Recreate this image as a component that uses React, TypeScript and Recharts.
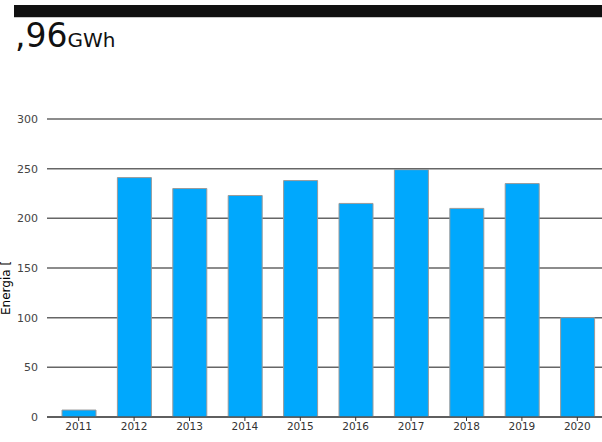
import React from 'react';
import { BarChart, Bar, XAxis, YAxis, CartesianGrid } from 'recharts';

const years = ['2011', '2012', '2013', '2014', '2015', '2016', '2017', '2018', '2019', '2020'];
const energy = [7, 241, 230, 223, 238, 215, 249, 210, 235, 100];
const yTicks = [0, 50, 100, 150, 200, 250, 300];

const data = years.map((y, i) => ({ year: y, value: energy[i] }));

export default function App() {
  return (
    <div style={{ position: 'absolute', left: 0, top: 0, width: 602, height: 442, overflow: 'hidden', background: '#fff' }}>
      <div style={{ position: 'absolute', left: 14, top: 5, width: 600, height: 12, background: '#111' }} />
      <div style={{ position: 'absolute', left: 14, top: 17, width: 600, height: 1, background: '#c8c8c8' }} />
      <div
        style={{
          position: 'absolute',
          left: 15,
          top: 16,
          fontFamily: '"DejaVu Sans", sans-serif',
          color: '#111',
          whiteSpace: 'nowrap',
          lineHeight: '40px',
        }}
      >
        <span style={{ fontSize: 33 }}>,96</span>
        <span style={{ fontSize: 20 }}>GWh</span>
      </div>
      <div style={{ position: 'absolute', left: 0, top: 0 }}>
        <BarChart
          width={609}
          height={442}
          data={data}
          margin={{ top: 119, right: 0, bottom: 5, left: 0 }}
          barSize={34}
        >
          <CartesianGrid vertical={false} stroke="#666" strokeWidth={1.5} />
          <XAxis
            dataKey="year"
            height={20}
            padding={{ left: 4, right: 4 }}
            stroke="#333"
            tickSize={4}
            tickMargin={2}
            tick={{ fill: '#333', fontSize: 10.5, fontFamily: '"DejaVu Sans", sans-serif' }}
          />
          <YAxis
            width={47}
            domain={[0, 300]}
            ticks={yTicks}
            axisLine={false}
            tickLine={false}
            tickSize={0}
            tickMargin={9}
            tick={{ fill: '#444', fontSize: 11, fontFamily: '"DejaVu Sans", sans-serif' }}
          />
          <Bar dataKey="value" fill="#00a8fd" stroke="#9a9a9a" strokeWidth={1} isAnimationActive={false} />
        </BarChart>
      </div>
      <svg style={{ position: 'absolute', left: 0, top: 0 }} width={20} height={442}>
        <text
          transform="translate(10,315) rotate(-90)"
          fontFamily='"DejaVu Sans", sans-serif'
          fontSize={12}
          fill="#000"
        >
          Energia [
        </text>
      </svg>
    </div>
  );
}
